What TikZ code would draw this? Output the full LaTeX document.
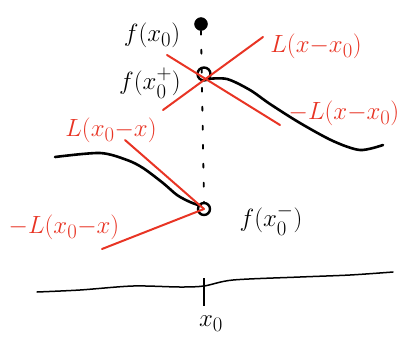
\documentclass[tikz,border=0pt]{standalone}
\usepackage{amsmath}
\usepackage{xcolor}
\usepackage{tikz}
\usetikzlibrary{calc, positioning}
\definecolor{penred}{RGB}{232,52,36}
\tikzset{
  ink/.style={line width=2.6pt, line cap=round, line join=round},
  redink/.style={penred, line width=2pt, line cap=round},
  hole/.style={circle, draw, line width=2.4pt, minimum size=13pt, inner sep=0pt},
  blob/.style={circle, draw, fill, minimum size=13pt, inner sep=0pt},
  lab/.style={font=\Huge, inner sep=0pt},
  redlab/.style={lab, text=penred},
}

\begin{document}
\begin{tikzpicture}[x=1pt, y=-1pt]
  \useasboundingbox (0,0) rectangle (399,341);
  \node[blob] (fx0) at (201,24) {};
  \node[hole] (jumpUp) at (204,74) {};
  \node[hole, minimum size=12pt] (jumpDown) at (204,209) {};
  \coordinate (tick) at (204,287);
  \draw[line width=1.8pt, line cap=round, dash pattern=on 4pt off 15pt] (fx0.south) -- (jumpDown.north);
  \draw[ink] plot[smooth] coordinates {(207,79) (227,79) (250,90) (270,104) (300,123) (333,141) (360,150) (383,145)};
  \draw[ink] plot[smooth] coordinates {(55,157) (100,153) (127,160) (143,168) (163,183) (177,195) (190,202) (201,206)};
  \draw[line width=1.5pt, line cap=round] plot[smooth] coordinates {(37,292) (80,290) (133,286) (180,287) (204,286) (233,280) (300,277) (350,275) (393,272)};
  \draw[line width=2pt] ($(tick)+(0,-9)$) -- ($(tick)+(0,19)$);
  \coordinate (Ltop) at (263,37);
  \coordinate (Lbot) at (163,110);
  \coordinate (mLtop) at (167,55);
  \coordinate (mLbot) at (280,125);
  \coordinate (Kleft) at (125,140);
  \coordinate (mKleft) at (102,249);
  \draw[redink] (Lbot) -- (Ltop);
  \draw[redink] (mLtop) -- (mLbot);
  \draw[redink] (Kleft) -- (jumpDown.center);
  \draw[redink] (mKleft) -- (jumpDown.center);
  \node[lab] (labfx0) at (152,35) {$f(x_0)$};
  \node[lab] (labplus) at (150,83) {$f(x_0^+)$};
  \node[lab] (labminus) at (271,220) {$f(x_0^-)$};
  \node[lab] (labx0) at (211,324) {$x_0$};
  \node[redlab] (labL) at (316,46) {$L(x{-}x_0)$};
  \node[redlab] (labmL) at (344,113) {$-L(x{-}x_0)$};
  \node[redlab] (labK) at (111,130) {$L(x_0{-}x)$};
  \node[redlab] (labmK) at (64,227) {$-L(x_0{-}x)$};
\end{tikzpicture}
\end{document}
